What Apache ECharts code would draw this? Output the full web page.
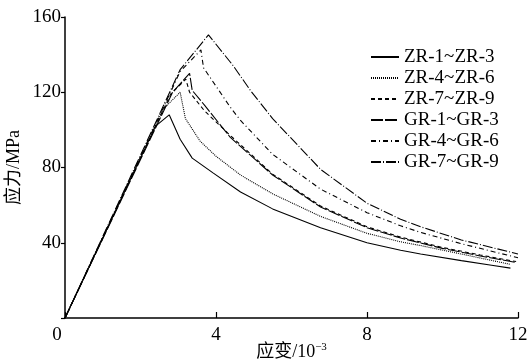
<!DOCTYPE html>
<html>
<head>
<meta charset="utf-8">
<script src="https://cdn.jsdelivr.net/npm/echarts@6/dist/echarts.min.js"></script>
<style>
  html, body { margin: 0; padding: 0; background: #fff; }
  #chart { width: 530px; height: 364px; }
</style>
</head>
<body>
<div id="chart"></div>
<script>
// strain (10^-3) and stress (MPa)
const seriesNames = ['ZR-1~ZR-3', 'ZR-4~ZR-6', 'ZR-7~ZR-9', 'GR-1~GR-3', 'GR-4~GR-6', 'GR-7~GR-9']

const strainZR1 = [0, 2.4, 2.76, 3.05, 3.37, 3.93, 4.65, 5.5, 6.77, 8, 8.89, 9.42, 10.5, 11.3, 11.8]
const stressZR1 = [0, 102, 108, 95, 85, 77, 67, 58, 48, 40, 36, 34, 30.5, 28, 26.5]

const strainZR4 = [0, 2.6, 3.05, 3.19, 3.58, 4.0, 4.65, 5.5, 6.77, 8, 8.89, 9.42, 10.5, 11.8]
const stressZR4 = [0, 111, 120, 106, 94, 86, 76, 66, 54, 45, 40.5, 38.5, 34, 28.5]

const strainZR7 = [0, 2.8, 3.2, 3.3, 3.7, 4.38, 5.5, 6.77, 8, 8.89, 10, 11, 11.95]
const stressZR7 = [0, 119, 127, 120, 110, 97, 76.5, 59.5, 48.5, 43, 37.5, 33.5, 30]

const strainGR1 = [0, 2.85, 3.3, 3.37, 3.7, 4.38, 5.5, 6.77, 8, 8.89, 10, 11, 11.95]
const stressGR1 = [0, 120, 130, 121, 113, 96, 76, 59, 48, 42.5, 37, 33, 29.5]

const strainGR4 = [0, 3.05, 3.6, 3.67, 4.38, 4.65, 5.5, 6.77, 8, 8.89, 9.42, 10.5, 12]
const stressGR4 = [0, 131, 142.5, 133, 112, 105, 87, 68.5, 56, 49, 45.5, 39.5, 32]

const strainGR7 = [0, 3.05, 3.8, 4.46, 4.91, 5.5, 6.77, 8, 8.89, 9.42, 10.5, 12]
const stressGR7 = [0, 132, 150.5, 134, 121, 106, 79, 61, 52.5, 48.5, 41.5, 34]

const strainSets = [strainZR1, strainZR4, strainZR7, strainGR1, strainGR4, strainGR7]
const stressSets = [stressZR1, stressZR4, stressZR7, stressGR1, stressGR4, stressGR7]
const dashTypes = ['solid', [1, 1], [4, 3], [12, 2], [5, 3, 1, 3], [10, 2, 1, 2]]

const xTicks = [0, 4, 8, 12]
const yTicks = [0, 40, 80, 120, 160]

const serif = '"Liberation Serif", "Noto Sans CJK SC", serif'

const chart = echarts.init(document.getElementById('chart'))

const option = {
  animation: false,
  backgroundColor: '#fff',
  grid: { left: 65, right: 12, top: 17, bottom: 46, containLabel: false, outerBoundsMode: 'none' },
  legend: {
    orient: 'vertical',
    left: 365,
    top: 42,
    itemWidth: 28,
    itemHeight: 10,
    itemGap: 1,
    data: seriesNames,
    itemStyle: { opacity: 0 },
    textStyle: { fontFamily: serif, fontSize: 19, lineHeight: 20, color: '#000' }
  },
  xAxis: {
    type: 'value',
    min: xTicks[0],
    max: xTicks[xTicks.length - 1],
    interval: 4,
    name: '应变/10{sup|−3}',
    nameLocation: 'middle',
    nameGap: 24,
    nameMoveOverlap: false,
    nameTextStyle: {
      fontFamily: serif,
      fontSize: 18,
      color: '#000',
      rich: {
        sup: { fontFamily: serif, fontSize: 11, color: '#000', padding: [0, 0, 9, 0] }
      }
    },
    axisLine: { lineStyle: { color: '#000', width: 1.5 } },
    axisTick: { inside: true, length: 6, lineStyle: { color: '#000', width: 1.2 } },
    axisLabel: {
      margin: 8,
      fontFamily: serif,
      fontSize: 19,
      color: '#000',
      formatter: function (v) { return v === 0 ? '{z|0}' : String(v) },
      rich: { z: { fontFamily: serif, fontSize: 19, color: '#000', padding: [0, 16, 0, 0] } }
    },
    splitLine: { show: false }
  },
  yAxis: {
    type: 'value',
    min: yTicks[0],
    max: yTicks[yTicks.length - 1],
    interval: 40,
    name: '应力/MPa',
    nameLocation: 'middle',
    nameGap: 42,
    nameMoveOverlap: false,
    nameTextStyle: { fontFamily: serif, fontSize: 18, color: '#000' },
    axisLine: { show: true, lineStyle: { color: '#000', width: 1.5 } },
    axisTick: { show: true, length: 4, lineStyle: { color: '#000', width: 1.2 } },
    axisLabel: {
      margin: 4,
      fontFamily: serif,
      fontSize: 19,
      color: '#000',
      formatter: function (v) { return v === 0 ? '' : String(v) }
    },
    splitLine: { show: false }
  },
  series: seriesNames.map(function (name, i) {
    return {
      name: name,
      type: 'line',
      symbol: 'none',
      smooth: false,
      lineStyle: { color: '#000', width: 1.1, type: dashTypes[i] },
      itemStyle: { color: '#000' },
      data: strainSets[i].map(function (x, j) { return [x, stressSets[i][j]] })
    }
  })
}

chart.setOption(option)
</script>
</body>
</html>
